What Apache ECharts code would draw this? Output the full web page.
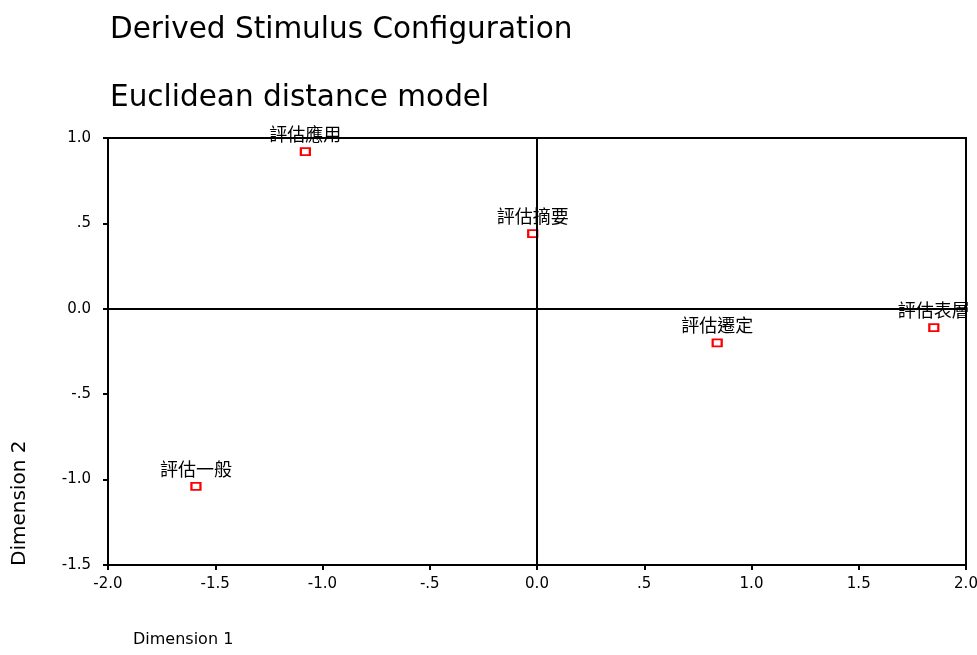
<!DOCTYPE html>
<html>
<head>
<meta charset="utf-8">
<script src="https://cdn.jsdelivr.net/npm/echarts@6/dist/echarts.min.js"></script>
<style>
  html, body { margin: 0; padding: 0; background: #fff; }
  #chart { width: 977px; height: 655px; }
</style>
</head>
<body>
<div id="chart"></div>
<script>
const stimulusNames = ["評估應用", "評估摘要", "評估遷定", "評估表層", "評估一般"];
const dim1Values = [-1.08, -0.02, 0.84, 1.85, -1.59];
const dim2Values = [0.92, 0.44, -0.20, -0.11, -1.04];

// SPSS style tick labels: ".5" instead of "0.5"
const fmtTick = (v) => {
  const s = v.toFixed(1);
  if (s === "0.5") return ".5";
  if (s === "-0.5") return "-.5";
  return s;
};

const myChart = echarts.init(document.getElementById("chart"));
const fontMain = "'DejaVu Sans', 'Noto Sans CJK TC', sans-serif";

const options = {
  animation: false,
  backgroundColor: "#fff",
  title: [
    {
      text: "Derived Stimulus Configuration",
      left: 105,
      top: 11,
      textStyle: { fontFamily: fontMain, fontSize: 29.5, fontWeight: "normal", color: "#000" },
    },
    {
      text: "Euclidean distance model",
      left: 105,
      top: 79,
      textStyle: { fontFamily: fontMain, fontSize: 29.5, fontWeight: "normal", color: "#000" },
    },
  ],
  grid: {
    left: 108,
    right: 11,
    top: 138,
    bottom: 90,
    outerBoundsMode: "none",
    show: true,
    borderColor: "#000",
    borderWidth: 2,
  },
  xAxis: {
    type: "value",
    min: -2,
    max: 2,
    interval: 0.5,
    name: "Dimension 1",
    nameLocation: "start",
    nameGap: 0,
    nameTextStyle: {
      fontFamily: fontMain,
      fontSize: 16,
      color: "#000",
      align: "left",
      verticalAlign: "top",
      padding: [67, 0, 0, 25],
    },
    axisLine: { onZero: false, lineStyle: { color: "#000", width: 2 } },
    axisTick: { show: true, inside: false, length: 5, lineStyle: { color: "#000", width: 2 } },
    axisLabel: {
      fontFamily: fontMain,
      fontSize: 15,
      color: "#000",
      margin: 12,
      formatter: fmtTick,
    },
    splitLine: { show: false },
  },
  yAxis: {
    type: "value",
    min: -1.5,
    max: 1,
    interval: 0.5,
    name: "Dimension 2",
    nameLocation: "start",
    nameRotate: 90,
    nameGap: 0,
    nameTextStyle: {
      fontFamily: fontMain,
      fontSize: 20,
      color: "#000",
      align: "left",
      verticalAlign: "bottom",
      padding: [0, 0, 78, -1],
    },
    axisLine: { onZero: false, lineStyle: { color: "#000", width: 2 } },
    axisTick: { show: true, inside: false, length: 5, lineStyle: { color: "#000", width: 2 } },
    axisLabel: {
      fontFamily: fontMain,
      fontSize: 15,
      color: "#000",
      margin: 17,
      formatter: fmtTick,
    },
    splitLine: { show: false },
  },
  series: [
    {
      type: "scatter",
      data: stimulusNames.map((name, i) => ({ name, value: [dim1Values[i], dim2Values[i]] })),
      symbol: "rect",
      symbolSize: [9, 7],
      itemStyle: { color: "#fff", borderColor: "#ff0000", borderWidth: 2, opacity: 1 },
      label: {
        show: true,
        position: "top",
        distance: 4,
        formatter: (p) => p.name,
        fontFamily: "'Noto Sans CJK TC', sans-serif",
        fontSize: 18,
        color: "#000",
      },
      markLine: {
        silent: true,
        symbol: "none",
        label: { show: false },
        lineStyle: { color: "#000", width: 2, type: "solid" },
        data: [{ xAxis: 0 }, { yAxis: 0 }],
      },
      z: 3,
    },
  ],
};

myChart.setOption(options);
</script>
</body>
</html>
